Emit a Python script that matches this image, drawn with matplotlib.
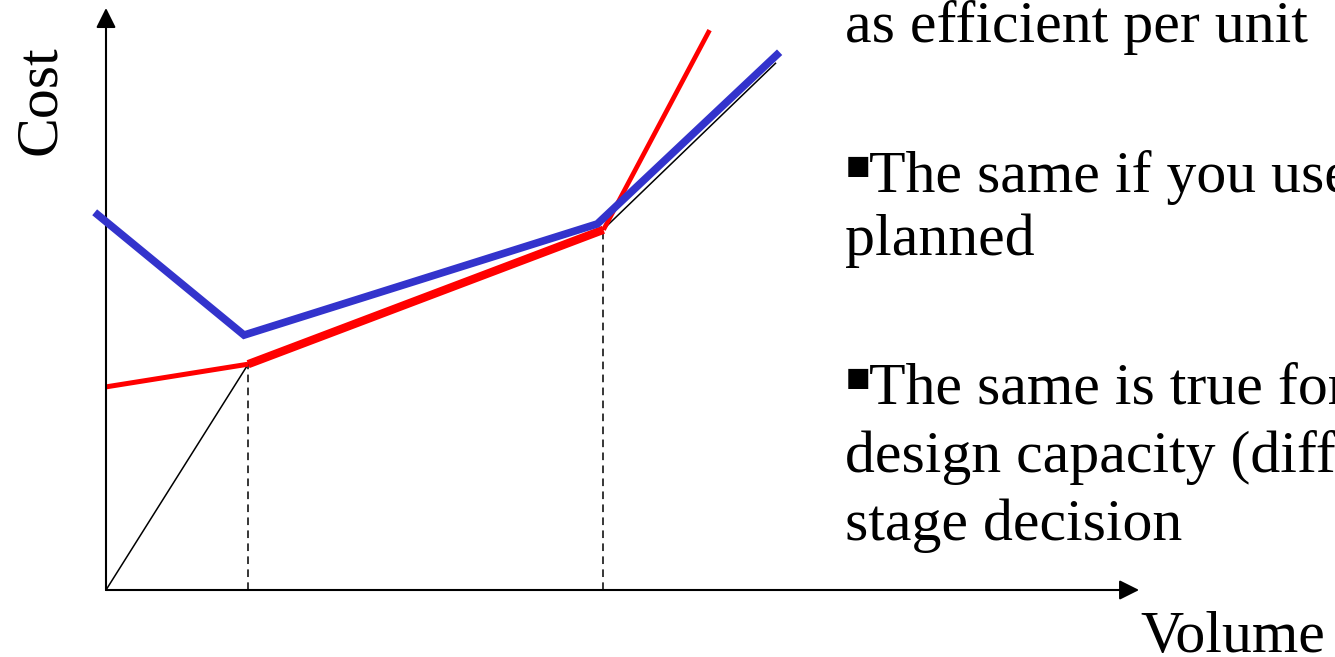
import matplotlib.pyplot as plt

# chart units: volume 0..10 along x, cost 0..10 along y
kinks = [1.38, 4.83]  # volume where the dashed guides drop

black_x = [0, 1.38, 4.83, 6.50]
black_y = [0, 3.88, 6.20, 9.05]

red_x = [0, 1.38, 4.83, 5.86]
red_y = [3.49, 3.88, 6.19, 9.62]
red_w = [3.6, 6.0, 3.4]  # width of each red segment (pt)

blue_x = [-0.11, 1.34, 4.77, 6.54]
blue_y = [6.49, 4.38, 6.29, 9.24]

W, H = 1335, 657
fig = plt.figure(figsize=(W / 100, H / 100), dpi=100)
ax = fig.add_axes([106 / W, 1 - 590 / H, 1030 / W, 582 / H])
ax.set_xlim(0, 10)
ax.set_ylim(0, 10)
ax.axis('off')

# axes with arrow heads
arrow = dict(arrowstyle='-|>,head_length=0.6,head_width=0.3', mutation_scale=20,
             lw=1.5, color='black', shrinkA=0, shrinkB=0)
ax.annotate('', xy=(10.03, 0), xytext=(0, 0), arrowprops=arrow, annotation_clip=False)
ax.annotate('', xy=(0, 10.0), xytext=(0, 0), arrowprops=arrow, annotation_clip=False)

# dashed guides
for k, yk in zip(kinks, [red_y[1], red_y[2]]):
    ax.plot([k, k], [0, yk], color='black', lw=1.1, ls=(0, (5, 3.5)), zorder=1)

ax.plot(black_x, black_y, color='black', lw=1.1, clip_on=False, zorder=1.5)
for i in range(3):
    ax.plot(red_x[i:i + 2], red_y[i:i + 2], color='#ff0000', lw=red_w[i],
            solid_capstyle='butt', clip_on=False, zorder=2)
ax.plot(blue_x, blue_y, color='#3333cc', lw=5.5, solid_joinstyle='miter',
        solid_capstyle='butt', clip_on=False, zorder=4)

fam = ['Liberation Serif', 'DejaVu Sans']
fs = 43


def put(x, y, s, **kw):
    kw.setdefault('fontsize', fs)
    fig.text(x / W, 1 - y / H, s, family=fam, ha='left', va='baseline', **kw)


put(55, 155, 'Cost', rotation=90, rotation_mode='anchor')
put(1140, 652, 'Volume')

lines = [
    (42, 'as efficient per unit', False),
    (192, 'The same if you use', True),
    (255, 'planned', False),
    (404, 'The same is true for', True),
    (472, 'design capacity (diff', False),
    (540, 'stage decision', False),
]
for y, s, bullet in lines:
    if bullet:
        put(844, y, '\u25aa', fontsize=58)
        put(869, y, s)
    else:
        put(845, y, s)

fig.savefig('out.png', dpi=100)
